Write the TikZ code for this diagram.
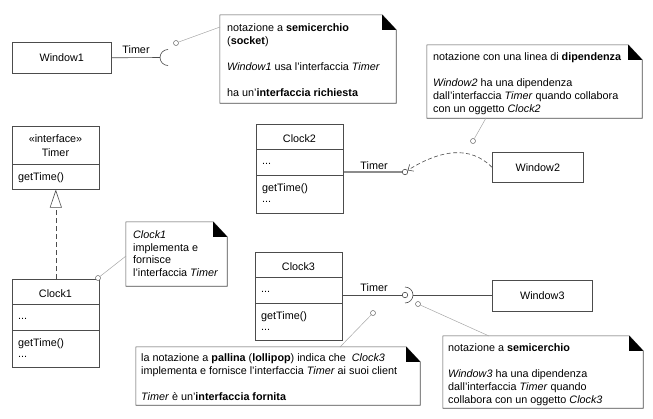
\documentclass[tikz,border=0pt]{standalone}
\usepackage{fontspec}
\setmainfont{Liberation Sans}
\usetikzlibrary{arrows.meta,fit}
\newcommand\umlnote[5]{%
  \coordinate (#1-nw) at (#2,#3);
  \coordinate (#1-se) at (#4,#5);
  \node[fit=(#1-nw)(#1-se), inner sep=0pt] (#1) {};
  \draw[notebox] (#1.north west) -- ([xshift=-14pt]#1.north east) -- ([yshift=-15pt]#1.north east) -- (#1.south east) -- (#1.south west) -- cycle;
  \fill[black] ([xshift=-14pt]#1.north east) -- ([xshift=-14pt,yshift=-15pt]#1.north east) -- ([yshift=-15pt]#1.north east) -- cycle;
}
\begin{document}
\begin{tikzpicture}[x=1pt,y=-1pt,
  txt/.style={font=\fontsize{10.8}{13}\selectfont, inner sep=0pt},
  cls/.style={draw=black!70, line width=0.6pt, inner sep=0pt, anchor=north west, font=\fontsize{10.8}{13}\selectfont},
  notebox/.style={draw=black!70, line width=0.6pt},
  notetxt/.style={txt, align=left, anchor=north west},
  ball/.style={circle, draw=black!70, fill=white, line width=0.6pt, minimum size=5.5pt, inner sep=0pt},
  pin/.style={circle, draw=black!60, fill=white, line width=0.5pt, minimum size=5pt, inner sep=0pt},
  noteline/.style={draw=black!35, line width=0.5pt},
  conn/.style={draw=black!70, line width=0.6pt},
]
\useasboundingbox (0,0) rectangle (653,418);

% ---------- Window1 with socket ----------
\node[cls, minimum width=99pt, minimum height=31pt] (w1) at (12,42) {Window1};
\coordinate (s1) at (160,57.5);
\draw[conn] (w1.east) -- (s1);
\draw[conn] (168,49.5) arc[start angle=90, end angle=270, radius=8pt];
\node[txt] (t1) at (136,50) {Timer};
\node[pin] (c1) at (176,43) {};
\umlnote{n1}{220}{15}{396}{103}
\coordinate (n1a) at (220,27);
\draw[noteline] (c1) -- (n1a);
\node[notetxt] (n1t) at (227,22) {\strut notazione a \textbf{semicerchio}\\
\strut(\textbf{socket})\\[13pt]
\strut\textit{Window1} usa l’interfaccia \textit{Timer}\\[13pt]
\strut ha un’\textbf{interfaccia richiesta}};

% ---------- Timer interface ----------
\node[cls, minimum width=87pt, minimum height=63pt] (timer) at (12,126) {};
\draw[conn] (12,164) -- (99,164);
\node[txt, anchor=base] (ti1) at (55.5,142) {«interface»};
\node[txt, anchor=base] (ti2) at (55.5,156) {Timer};
\node[txt, anchor=base west] (ti3) at (18,180) {getTime()};

% ---------- Clock1 ----------
\node[cls, minimum width=87pt, minimum height=88pt] (clock1) at (12,279) {};
\draw[conn] (12,304) -- (99,304);
\draw[conn] (12,330) -- (99,330);
\node[txt, anchor=base] (k1a) at (55.5,297) {Clock1};
\node[txt, anchor=base west] (k1b) at (18,319) {...};
\node[txt, anchor=base west] (k1c) at (18,346) {getTime()};
\node[txt, anchor=base west] (k1d) at (18,357) {...};
\draw[conn, dash pattern=on 5pt off 3pt, -{Triangle[open, length=18pt, width=12pt]}] (clock1.north) -- (timer.south);

\node[pin] (c3) at (98,278) {};
\umlnote{n3}{126}{222}{227}{286}
\coordinate (n3a) at (126,256);
\draw[noteline] (c3) -- (n3a);
\node[notetxt, font=\fontsize{10.8}{12.4}\selectfont] (n3t) at (133,230) {\strut\textit{Clock1}\\
\strut implementa e\\
\strut fornisce\\
\strut l’interfaccia \textit{Timer}};

% ---------- Clock2 / Window2 ----------
\node[cls, minimum width=87pt, minimum height=89pt] (clock2) at (256,124) {};
\draw[conn] (256,149) -- (343,149);
\draw[conn] (256,175) -- (343,175);
\node[txt, anchor=base] (k2a) at (299.5,142) {Clock2};
\node[txt, anchor=base west] (k2b) at (262,164) {...};
\node[txt, anchor=base west] (k2c) at (262,191) {getTime()};
\node[txt, anchor=base west] (k2d) at (262,202) {...};
\node[ball] (b2) at (405,172) {};
\draw[draw=black!45, line width=1.3pt] (clock2.east |- b2) -- (b2);
\node[txt] (t2) at (374,166) {Timer};
\node[cls, minimum width=91pt, minimum height=30pt] (w2) at (492,152) {Window2};
\draw[conn, dash pattern=on 4pt off 2.5pt, -{Straight Barb[length=4.5pt, width=8pt]}] (w2.west) .. controls (470,145) and (440,150) .. (b2);

\node[pin] (c2) at (473,141) {};
\umlnote{n2}{427}{45}{642}{118}
\coordinate (n2a) at (486,118);
\draw[noteline] (c2) -- (n2a);
\node[notetxt] (n2t) at (433,51) {\strut notazione con una linea di \textbf{dipendenza}\\[13pt]
\strut\textit{Window2} ha una dipendenza\\
\strut dall’interfaccia \textit{Timer} quando collabora\\
\strut con un oggetto \textit{Clock2}};

% ---------- Clock3 / Window3 ----------
\node[cls, minimum width=87pt, minimum height=88pt] (clock3) at (255,252) {};
\draw[conn] (255,277) -- (342,277);
\draw[conn] (255,303) -- (342,303);
\node[txt, anchor=base] (k3a) at (298.5,270) {Clock3};
\node[txt, anchor=base west] (k3b) at (261,292) {...};
\node[txt, anchor=base west] (k3c) at (261,319) {getTime()};
\node[txt, anchor=base west] (k3d) at (261,330) {...};
\node[ball] (b3) at (405,295) {};
\draw[conn] (clock3.east |- b3) -- (b3);
\draw[conn] (405,287) arc[start angle=90, end angle=-90, radius=8pt];
\coordinate (s3) at (413,295);
\node[cls, minimum width=100pt, minimum height=31pt] (w3) at (492,280) {Window3};
\draw[conn] (s3) -- (w3.west |- s3);
\node[txt] (t3) at (374,288) {Timer};

\node[pin] (c4) at (373,313) {};
\umlnote{n4}{136}{347}{420}{405}
\coordinate (n4a) at (340,347);
\draw[noteline] (c4) -- (n4a);
\node[notetxt] (n4t) at (141,352) {\strut la notazione a \textbf{pallina} (\textbf{lollipop}) indica che\ \ \textit{Clock3}\\
\strut implementa e fornisce l’interfaccia \textit{Timer} ai suoi client\\[13pt]
\strut\textit{Timer} è un’\textbf{interfaccia fornita}};

\node[pin] (c5) at (418,304) {};
\umlnote{n5}{443}{336}{643}{408}
\coordinate (n5a) at (489,336);
\draw[noteline] (c5) -- (n5a);
\node[notetxt] (n5t) at (448,342) {\strut notazione a \textbf{semicerchio}\\[13pt]
\strut\textit{Window3} ha una dipendenza\\
\strut dall’interfaccia \textit{Timer} quando\\
\strut collabora con un oggetto \textit{Clock3}};
\end{tikzpicture}
\end{document}
